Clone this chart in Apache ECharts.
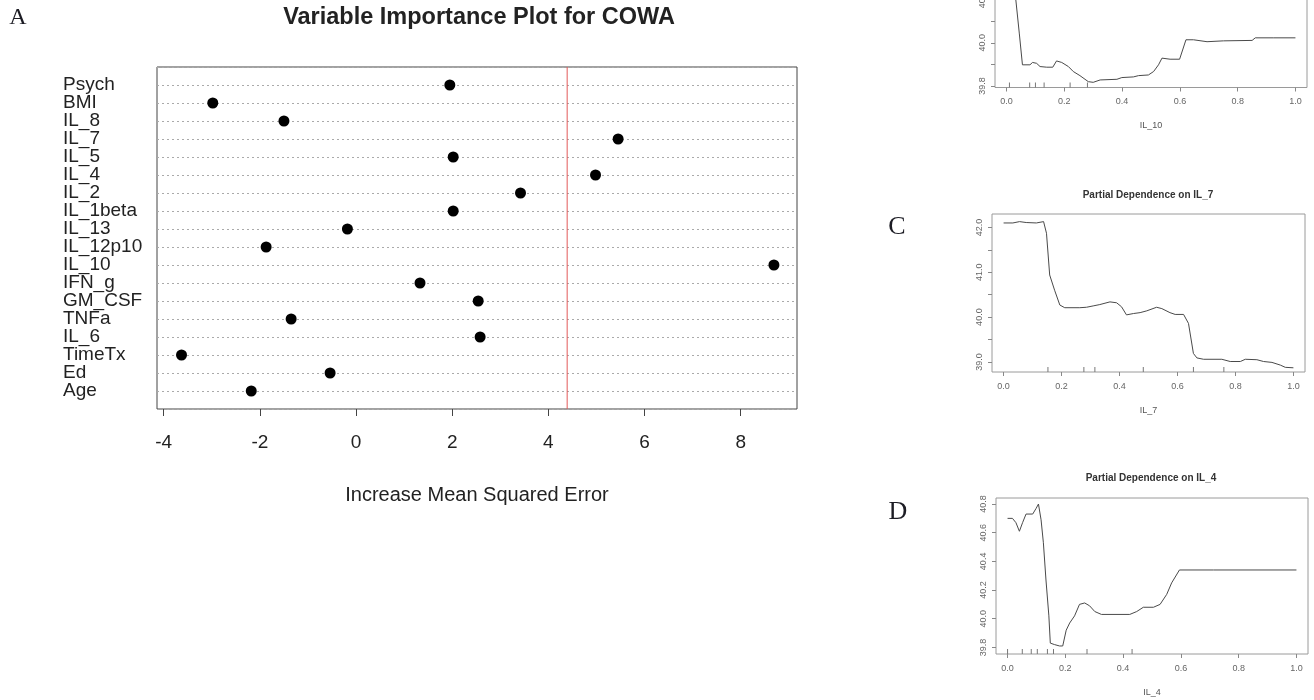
<!DOCTYPE html>
<html>
<head>
<meta charset="utf-8">
<script src="https://cdn.jsdelivr.net/npm/echarts@6/dist/echarts.min.js"></script>
<style>
  html, body { margin: 0; padding: 0; background: #fff; }
  #chart { width: 1314px; height: 700px; }
</style>
</head>
<body>
<div id="chart"></div>
<script>
// panel A: variable importance, listed top to bottom
var variables = ['Psych', 'BMI', 'IL_8', 'IL_7', 'IL_5', 'IL_4', 'IL_2', 'IL_1beta', 'IL_13', 'IL_12p10',
  'IL_10', 'IFN_g', 'GM_CSF', 'TNFa', 'IL_6', 'TimeTx', 'Ed', 'Age'];
var incMSE = [1.95, -2.98, -1.50, 5.45, 2.02, 4.98, 3.42, 2.02, -0.18, -1.87,
  8.69, 1.33, 2.54, -1.35, 2.58, -3.63, -0.54, -2.18];
var cutoff = 4.39;
var impTicks = [-4, -2, 0, 2, 4, 6, 8];

// panel B: partial dependence on IL_10
var il10X = [0, 0.025, 0.032, 0.044, 0.055, 0.081, 0.09, 0.104, 0.116, 0.139, 0.16, 0.173, 0.191, 0.214, 0.231,
  0.254, 0.283, 0.30, 0.324, 0.382, 0.399, 0.439, 0.457, 0.491, 0.509, 0.526, 0.538, 0.566, 0.599, 0.621,
  0.647, 0.694, 0.751, 0.85, 0.861, 0.925, 1.0];
var il10Y = [40.44, 40.42, 40.2, 40.045, 39.898, 39.898, 39.909, 39.905, 39.89, 39.887, 39.887, 39.916, 39.909, 39.89, 39.867,
  39.848, 39.82, 39.817, 39.828, 39.831, 39.839, 39.842, 39.848, 39.851, 39.867, 39.898, 39.929, 39.924, 39.924, 40.014,
  40.014, 40.005, 40.009, 40.011, 40.023, 40.023, 40.023];
var il10Rug = [0.01, 0.08, 0.1, 0.13, 0.22, 0.28];
var il10Ticks = [39.8, 39.9, 40.0, 40.1, 40.2, 40.3, 40.4, 40.5];
var il10Labels = [39.8, 40.0, 40.2, 40.4];

// panel C: partial dependence on IL_7
var il7X = [0, 0.032, 0.055, 0.078, 0.113, 0.138, 0.148, 0.159, 0.176, 0.194, 0.211, 0.263, 0.286, 0.309, 0.332,
  0.367, 0.39, 0.407, 0.424, 0.448, 0.471, 0.494, 0.528, 0.546, 0.574, 0.592, 0.621, 0.638, 0.655, 0.667,
  0.69, 0.753, 0.782, 0.817, 0.834, 0.874, 0.897, 0.926, 0.955, 0.972, 1.0];
var il7Y = [42.10, 42.10, 42.13, 42.11, 42.10, 42.13, 41.87, 40.94, 40.60, 40.27, 40.21, 40.21, 40.22, 40.25, 40.28,
  40.34, 40.32, 40.23, 40.05, 40.08, 40.10, 40.14, 40.22, 40.19, 40.10, 40.06, 40.06, 39.86, 39.19, 39.09,
  39.06, 39.06, 39.01, 39.01, 39.06, 39.05, 39.01, 38.99, 38.93, 38.88, 38.87];
var il7Rug = [0.153, 0.277, 0.315, 0.482, 0.655, 0.76];
var il7Ticks = [39.0, 39.5, 40.0, 40.5, 41.0, 41.5, 42.0];
var il7Labels = [39.0, 40.0, 41.0, 42.0];

// panel D: partial dependence on IL_4
var il4X = [0, 0.017, 0.029, 0.041, 0.052, 0.064, 0.087, 0.099, 0.107, 0.116, 0.124, 0.133, 0.143, 0.148, 0.162,
  0.18, 0.191, 0.203, 0.215, 0.232, 0.249, 0.267, 0.284, 0.302, 0.325, 0.365, 0.423, 0.447, 0.47, 0.505,
  0.528, 0.551, 0.568, 0.595, 0.713, 1.0];
var il4Y = [40.70, 40.70, 40.67, 40.61, 40.67, 40.73, 40.73, 40.77, 40.80, 40.69, 40.53, 40.27, 40.02, 39.83, 39.82,
  39.81, 39.81, 39.92, 39.97, 40.02, 40.10, 40.11, 40.09, 40.05, 40.03, 40.03, 40.03, 40.05, 40.08, 40.08,
  40.10, 40.17, 40.25, 40.34, 40.34, 40.34];
var il4Rug = [0.0, 0.051, 0.082, 0.103, 0.138, 0.159, 0.275, 0.431];
var il4Ticks = [39.8, 40.0, 40.2, 40.4, 40.6, 40.8];

var pdXTicks = [0, 0.2, 0.4, 0.6, 0.8, 1.0];

var sans = "'Liberation Sans', Arial, sans-serif";
var serif = "'Liberation Serif', 'DejaVu Serif', serif";

function zip(xs, ys) {
  return xs.map(function (x, i) { return [x, ys[i]]; });
}

function fmt1(v) { return Number(v).toFixed(1); }

// one partial dependence panel = x axis + y axis + curve + rug
var pdPanels = [
  { name: 'IL_10', x: il10X, y: il10Y, rug: il10Rug, ticks: il10Ticks, labels: il10Labels, min: 39.793, max: 40.52 },
  { name: 'IL_7', x: il7X, y: il7Y, rug: il7Rug, ticks: il7Ticks, labels: il7Labels, min: 38.776, max: 42.30 },
  { name: 'IL_4', x: il4X, y: il4Y, rug: il4Rug, ticks: il4Ticks, labels: il4Ticks, min: 39.754, max: 40.842 }
];

var pdGrids = [
  { left: 995, top: -69.5, width: 312, height: 157 },
  { left: 992, top: 214, width: 313, height: 158 },
  { left: 996, top: 498, width: 312, height: 156 }
];

var grids = [{ left: 157, top: 67, width: 640, height: 342, show: true, borderColor: '#444', borderWidth: 1,
  outerBoundsMode: 'none', containLabel: false }];
pdGrids.forEach(function (g) {
  grids.push({ left: g.left, top: g.top, width: g.width, height: g.height, show: true,
    borderColor: '#9a9a9a', borderWidth: 1, outerBoundsMode: 'none', containLabel: false });
});

var xAxes = [{
  gridIndex: 0, type: 'value', min: -4.14, max: 9.17,
  axisLine: { show: false, onZero: false },
  axisTick: { show: true, length: 7, customValues: impTicks, lineStyle: { color: '#444' } },
  axisLabel: { customValues: impTicks, fontSize: 19, fontFamily: sans, color: '#222', margin: 24 },
  splitLine: { show: false },
  name: 'Increase Mean Squared Error', nameLocation: 'middle', nameGap: 76,
  nameTextStyle: { fontSize: 20, fontFamily: sans, color: '#222' }
}];
var yAxes = [{
  gridIndex: 0, type: 'category', inverse: true, boundaryGap: false,
  data: [''].concat(variables, ['']),
  axisLine: { show: false, onZero: false }, axisTick: { show: false },
  axisLabel: { interval: 0, align: 'left', margin: 94, fontSize: 19, fontFamily: sans, color: '#222' },
  splitLine: { show: true, lineStyle: { color: '#aaa', type: [2, 3], width: 1 } }
}];

var series = [
  {
    // red cutoff line, from the top padding row to the bottom padding row
    type: 'line', xAxisIndex: 0, yAxisIndex: 0, silent: true, showSymbol: false,
    data: [[cutoff, 0], [cutoff, variables.length + 1]],
    lineStyle: { color: '#e35a5a', width: 1 }, z: 1
  },
  {
    type: 'scatter', xAxisIndex: 0, yAxisIndex: 0,
    data: variables.map(function (v, i) { return [incMSE[i], v]; }),
    symbolSize: 11, itemStyle: { color: '#000', opacity: 1 }, silent: true, z: 3
  }
];

pdPanels.forEach(function (p, k) {
  var gi = k + 1;
  xAxes.push({
    gridIndex: gi, type: 'value', min: -0.04, max: 1.04,
    axisLine: { show: false, onZero: false },
    axisTick: { show: true, length: 4, customValues: pdXTicks, lineStyle: { color: '#888' } },
    axisLabel: { customValues: pdXTicks, formatter: fmt1, fontSize: 9, fontFamily: sans, color: '#666', margin: 10 },
    splitLine: { show: false },
    name: p.name, nameLocation: 'middle', nameGap: 34,
    nameTextStyle: { fontSize: 9, fontFamily: sans, color: '#555' }
  });
  yAxes.push({
    gridIndex: gi, type: 'value', min: p.min, max: p.max,
    axisLine: { show: false, onZero: false },
    axisTick: { show: true, length: 4, customValues: p.ticks, lineStyle: { color: '#888' } },
    axisLabel: { customValues: p.labels, formatter: fmt1, rotate: 90, fontSize: 9, fontFamily: sans, color: '#666', margin: 8 },
    splitLine: { show: false }
  });
  series.push({
    type: 'line', xAxisIndex: gi, yAxisIndex: gi,
    data: zip(p.x, p.y), showSymbol: false, silent: true,
    lineStyle: { color: '#4a4a4a', width: 1 }
  });
  series.push({
    type: 'scatter', xAxisIndex: gi, yAxisIndex: gi, silent: true, clip: false,
    data: p.rug.map(function (r) { return [r, p.min]; }),
    symbol: 'rect', symbolSize: [1, 5], symbolOffset: [0, -2.5],
    itemStyle: { color: '#777', opacity: 1 }
  });
});

function label(text, x, y, size, family, weight, color) {
  return {
    text: text, left: x, top: y, padding: 0, textAlign: 'center', textVerticalAlign: 'middle',
    textStyle: { fontSize: size, fontFamily: family, fontWeight: weight, color: color }
  };
}

var titles = [
  label('A', 18, 18, 24, serif, 'normal', '#1c1c24'),
  label('Variable Importance Plot for COWA', 479, 18, 23.5, sans, 'bold', '#222'),
  label('C', 897, 227, 26, serif, 'normal', '#1c1c24'),
  label('Partial Dependence on IL_7', 1148, 195, 10, sans, 'bold', '#333'),
  label('D', 898, 512, 26, serif, 'normal', '#1c1c24'),
  label('Partial Dependence on IL_4', 1151, 478, 10, sans, 'bold', '#333')
];

var myecharts = echarts.init(document.getElementById('chart'));
myecharts.setOption({
  backgroundColor: '#fff',
  animation: false,
  title: titles,
  grid: grids,
  xAxis: xAxes,
  yAxis: yAxes,
  series: series
});
</script>
</body>
</html>
